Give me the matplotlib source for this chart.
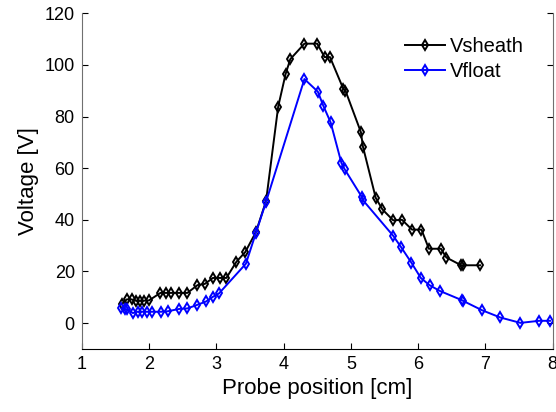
import numpy as np
import matplotlib.pyplot as plt

# ------------------------------------------------------------------------------
# data
x_sheath = [1.60, 1.67, 1.74, 1.80, 1.86, 1.93, 2.00, 2.17, 2.25, 2.32, 2.45,
            2.57, 2.72, 2.83, 2.95, 3.05, 3.15, 3.30, 3.43, 3.59, 3.74, 3.92,
            4.03, 4.10, 4.31, 4.50, 4.61, 4.69, 4.89, 4.92, 5.15, 5.18, 5.37,
            5.47, 5.63, 5.76, 5.91, 6.05, 6.16, 6.34, 6.42, 6.64, 6.67, 6.92]
v_sheath = [7.5, 9.2, 9.2, 8.7, 8.7, 8.7, 8.8, 11.7, 11.7, 11.7, 11.7,
            11.7, 14.7, 15.2, 17.5, 17.5, 17.5, 23.8, 27.5, 35.3, 47.3, 83.8,
            96.4, 102.2, 108.2, 108.2, 103.0, 103.0, 90.6, 90.0, 73.9, 68.3, 48.5,
            44.0, 39.8, 40.0, 36.2, 36.2, 28.8, 28.8, 25.4, 22.4, 22.4, 22.4]

x_float = [1.59, 1.64, 1.68, 1.76, 1.83, 1.90, 1.97, 2.04, 2.18, 2.28, 2.45,
           2.57, 2.72, 2.85, 2.95, 3.04, 3.44, 3.59, 3.74, 4.31, 4.51, 4.59,
           4.70, 4.86, 4.91, 5.16, 5.18, 5.63, 5.75, 5.90, 6.04, 6.17, 6.32,
           6.65, 6.67, 6.95, 7.22, 7.52, 7.80, 7.96]
v_float = [5.7, 5.5, 5.3, 3.9, 4.4, 4.4, 4.4, 4.4, 4.4, 4.6, 5.5,
           5.7, 7.1, 8.4, 10.2, 11.5, 23.0, 35.0, 47.0, 94.5, 89.6, 84.2,
           77.7, 62.0, 59.5, 49.0, 47.6, 33.8, 29.3, 23.4, 17.5, 14.7, 12.5,
           8.9, 8.6, 5.0, 2.2, 0.1, 0.9, 0.9]

# ------------------------------------------------------------------------------
plt.rcParams['font.family'] = ['Liberation Sans', 'DejaVu Sans']

fig = plt.figure(figsize=(5.56, 4.12), dpi=100)
ax = fig.add_axes([0.147, 0.153, 0.847, 0.815])

sty = dict(marker='d', markersize=5.5, markerfacecolor='none',
           markeredgewidth=1.4, linewidth=1.4)
ax.plot(x_sheath, v_sheath, color='k', label='Vsheath', **sty)
ax.plot(x_float, v_float, color='#0000ff', label='Vfloat', **sty)

ax.set_xlim(1, 8)
ax.set_ylim(-10, 120)
ax.set_xticks(range(1, 9))
ax.set_yticks(range(0, 121, 20))
ax.tick_params(direction='in', length=4, labelsize=13, right=True,
               top=False, labelright=False, pad=5)
ax.spines['top'].set_visible(False)
for s in ['left', 'right']:
    ax.spines[s].set_color('#707070')

ax.set_xlabel('Probe position [cm]', fontsize=16, labelpad=4)
ax.set_ylabel('Voltage [V]', fontsize=16, labelpad=4)

ax.legend(loc='upper left', bbox_to_anchor=(405 / 556, 1 - 37 / 412),
          bbox_transform=fig.transFigure, frameon=False, fontsize=14.5,
          handlelength=2.0, handletextpad=0.25, borderpad=0,
          borderaxespad=0, labelspacing=0.3, numpoints=1)

fig.savefig('out.png', dpi=100)
